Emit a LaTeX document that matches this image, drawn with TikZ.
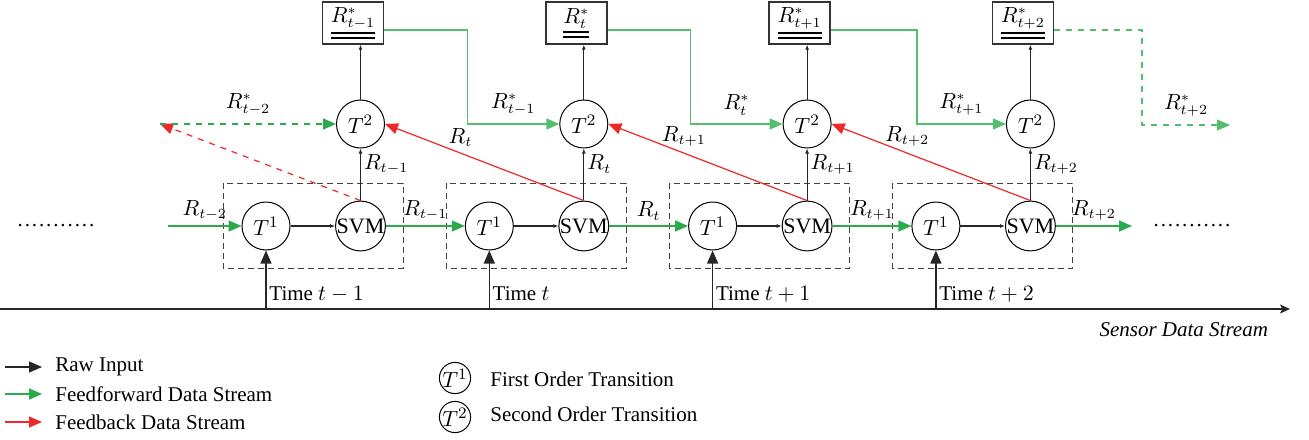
\documentclass[tikz,border=0pt]{standalone}
\usepackage{fontspec}
\setmainfont{Liberation Serif}
\usetikzlibrary{arrows.meta,calc}
\definecolor{ffgreen}{RGB}{40,172,75}
\definecolor{fflight}{RGB}{85,190,110}
\definecolor{fbred}{RGB}{238,40,40}
\newcommand\dul[1]{\vtop{\hbox{$#1$}\kern1.3pt\hrule height0.9pt\kern1.5pt\hrule height0.9pt}}
\begin{document}
\begin{tikzpicture}[x=0.5pt,y=-0.5pt,
  font=\fontsize{10.5}{12}\selectfont,
  circ/.style={circle,draw,line width=0.5pt,minimum size=24pt,inner sep=0pt,font=\fontsize{11}{12}\selectfont},
  rbox/.style={draw=black!80,line width=0.7pt,minimum width=30.5pt,minimum height=21pt,inner sep=0pt},
  dbox/.style={draw=black!75,line width=0.5pt,dash pattern=on 3pt off 2pt},
  ff/.style={draw=ffgreen,line width=0.75pt},
  ffl/.style={draw=fflight,line width=0.65pt},
  fb/.style={draw=fbred,line width=0.6pt},
  blk/.style={draw=black!85,line width=0.6pt},
  big/.style={-{Triangle[length=6.5pt,width=5.5pt]}},
  small/.style={-{Latex[length=2.5pt,width=2pt]}},
  lab/.style={inner sep=0pt}
]
\useasboundingbox (0,0) rectangle (1309,439);
% time axis
\coordinate (ax0) at (0,309);
\coordinate (ax1) at (1290,309);
\draw[blk,line width=0.7pt,-{Stealth[length=5pt,width=4.5pt,inset=1.2pt]}] (ax0) -- (ax1);
\node[anchor=east,font=\fontsize{10.5}{12}\selectfont\itshape] (sds) at (1275,330) {Sensor Data Stream};

\foreach \i/\s/\tm in {0/{t-1}/{t-1},1/t/t,2/{t+1}/{t+1},3/{t+2}/{t+2}}{
  \pgfmathsetmacro\dx{223.3*\i}
  \draw[dbox] (223+\dx,183) rectangle (403+\dx,268);
  \node[circ] (T1-\i) at (266+\dx,226) {$T^1$};
  \node[circ] (SVM-\i) at (360.5+\dx,226) {SVM};
  \node[circ] (T2-\i) at (360.5+\dx,124) {$T^2$};
  \node[rbox] (B-\i) at (353+\dx,23) {\dul{R^*_{\s}}};
  \coordinate (tm-\i) at (266+\dx,309);
  \draw[blk,big] (tm-\i) -- (T1-\i.south);
  \node[anchor=west,lab] (tl-\i) at (269+\dx,294) {Time $\tm$};
  \draw[blk,small] (T1-\i) -- (SVM-\i);
  \draw[blk,small] (SVM-\i) -- node[anchor=west,lab,xshift=1.5pt,pos=0.7]{$R_{\s}$} (T2-\i);
  \draw[blk,small] (T2-\i) -- (T2-\i |- B-\i.south);
}
% dots
\node[lab] (dl) at (56,226) {\addfontfeature{LetterSpace=9}...........};
\node[lab] (dr) at (1192,226) {\addfontfeature{LetterSpace=9}...........};
\coordinate (in0) at (168,226);
\draw[ff,big] (in0) -- node[above=2.5pt,lab]{$R_{t-2}$} (T1-0);
\draw[ff,big] (SVM-0) -- node[above=2.5pt,lab]{$R_{t-1}$} (T1-1);
\draw[ff,big] (SVM-1) -- node[above=2.5pt,lab]{$R_{t}$} (T1-2);
\draw[ff,big] (SVM-2) -- node[above=2.5pt,lab]{$R_{t+1}$} (T1-3);
\coordinate (out0) at (1132,226);
\draw[ff,big] (SVM-3) -- node[above=2.5pt,lab]{$R_{t+2}$} (out0);
% feedback
\coordinate (L) at (160,124);
\draw[fb,dashed,big] (SVM-0.north) -- (L);
\draw[ff,dashed,big] (L) -- node[above=4pt,lab]{$R^*_{t-2}$} (T2-0.west);
\draw[fb,big] (SVM-1.north) -- node[pos=0.62,above=3pt,lab]{$R_{t}$} (T2-0.east);
\draw[fb,big] (SVM-2.north) -- node[pos=0.62,above=3pt,lab]{$R_{t+1}$} (T2-1.east);
\draw[fb,big] (SVM-3.north) -- node[pos=0.62,above=3pt,lab]{$R_{t+2}$} (T2-2.east);
% R* feedforward
\draw[ffl,big] ([yshift=-3.5pt]B-0.east) -| ($(T2-1.west)+(-92,0)$) -- node[above=4pt,lab]{$R^*_{t-1}$} (T2-1.west);
\draw[ffl,big] ([yshift=-3.5pt]B-1.east) -| ($(T2-2.west)+(-92,0)$) -- node[above=4pt,lab]{$R^*_{t}$} (T2-2.west);
\draw[ffl,big] ([yshift=-3.5pt]B-2.east) -| ($(T2-3.west)+(-89,0)$) -- node[above=4pt,lab]{$R^*_{t+1}$} (T2-3.west);
\coordinate (c4) at (1142,125);
\coordinate (out1) at (1230,125);
\draw[ffl,dashed,big] ([yshift=-3.5pt]B-3.east) -| (c4) -- node[above=4pt,lab]{$R^*_{t+2}$} (out1);
% legend
\node[anchor=west,lab] (lg1) at (55,367) {Raw Input};
\node[anchor=west,lab] (lg2) at (55,394) {Feedforward Data Stream};
\node[anchor=west,lab] (lg3) at (55,422) {Feedback Data Stream};
\draw[blk,big] (5,367) -- ([xshift=-6.5pt]lg1.west);
\draw[ff,big] (5,394) -- ([xshift=-6.5pt]lg2.west);
\draw[fb,big] (5,422) -- ([xshift=-6.5pt]lg3.west);
\node[circ,minimum size=14pt] (lc1) at (455,378) {$T^1$};
\node[circ,minimum size=14pt] (lc2) at (455,417) {$T^2$};
\node[anchor=west,lab] (lt1) at (490,379) {First Order Transition};
\node[anchor=west,lab] (lt2) at (490,414) {Second Order Transition};
\end{tikzpicture}
\end{document}
